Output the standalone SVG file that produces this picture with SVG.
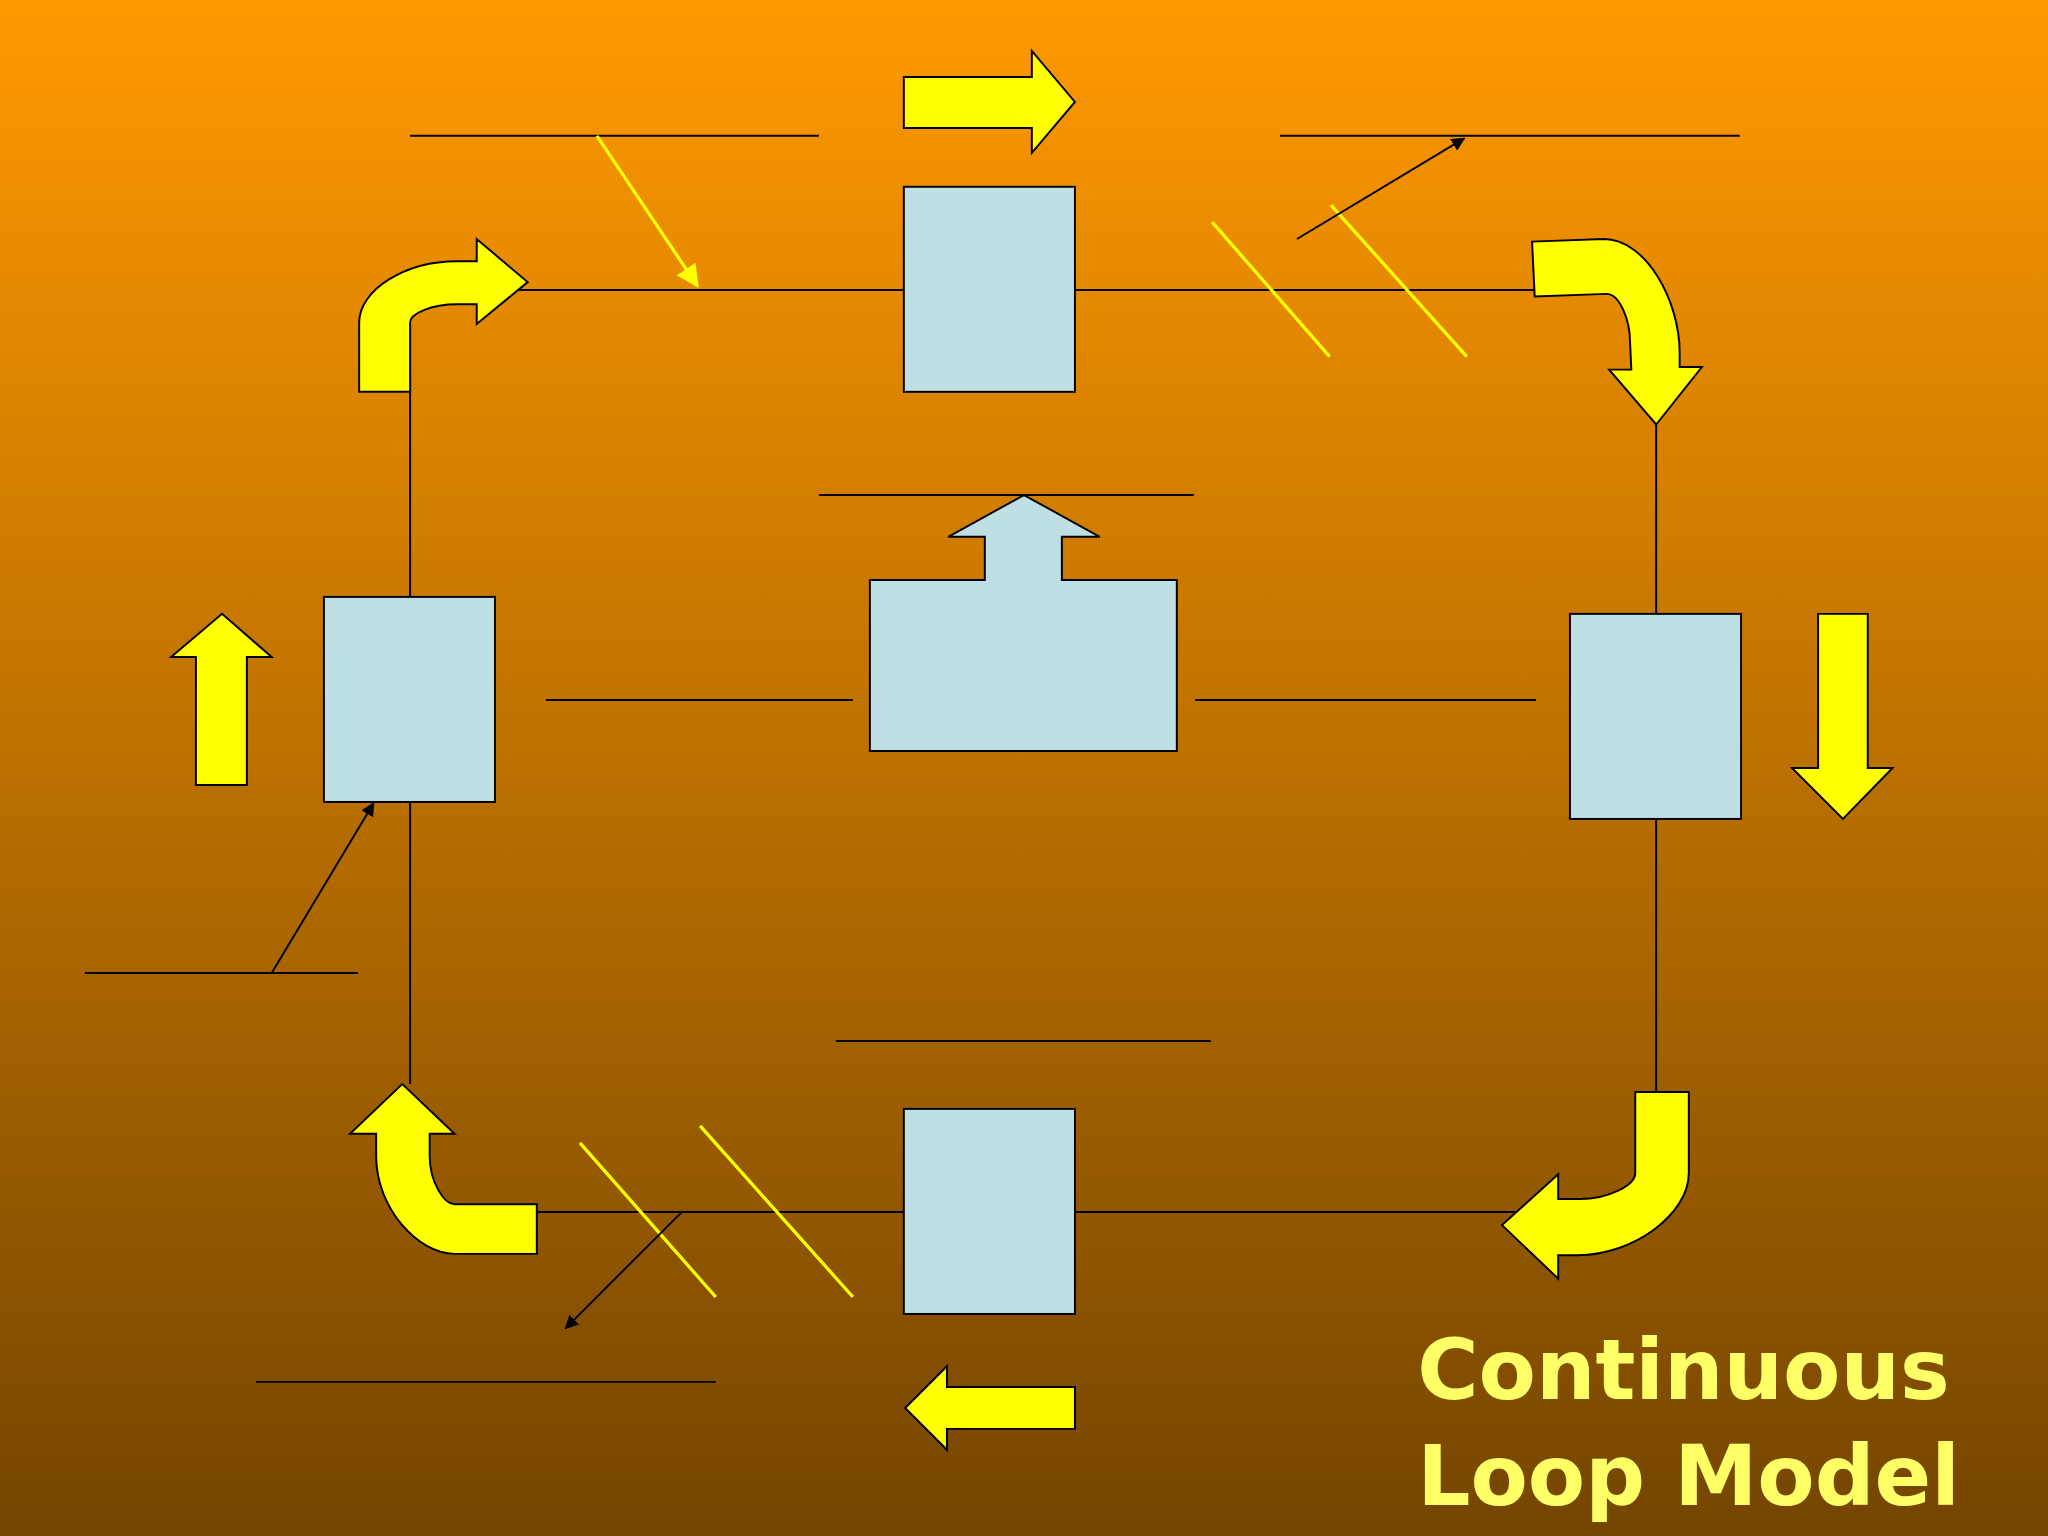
<svg xmlns="http://www.w3.org/2000/svg" width="2048" height="1536" viewBox="0 0 2048 1536">
<defs>
<linearGradient id="bg" x1="0" y1="0" x2="0" y2="1">
<stop offset="0" stop-color="#FF9900"/><stop offset="0.5" stop-color="#BB7000"/><stop offset="1" stop-color="#744500"/>
</linearGradient>
<marker id="ab" viewBox="0 0 10 10" refX="9" refY="5" markerWidth="7" markerHeight="7" orient="auto"><path d="M0,0 L10,5 L0,10 Z" fill="#000"/></marker>
<marker id="ay" viewBox="0 0 10 10" refX="9" refY="5" markerWidth="7" markerHeight="7" orient="auto"><path d="M0,0 L10,5 L0,10 Z" fill="#FFFF00"/></marker>
<style>
.box{fill:#BEDFE4;stroke:#000;stroke-width:1.5}
.ya{fill:#FFFF00;stroke:#000;stroke-width:1.5}
.ln{stroke:#000;stroke-width:1.5;fill:none}
.yl{stroke:#FFFF00;stroke-width:2.5;fill:none}
.t{font-family:"DejaVu Sans",Verdana,sans-serif;font-weight:bold;font-size:64px;fill:#FFFF66}
</style>
</defs>
<rect width="2048" height="1536" fill="url(#bg)"/>
<g transform="scale(1.30612)">
<g id="connectors">
<line class="ln" x1="314" y1="104" x2="627" y2="104"/>
<line class="ln" x1="980" y1="104" x2="1332" y2="104"/>
<line class="ln" x1="395" y1="222" x2="692" y2="222"/>
<line class="ln" x1="823" y1="222" x2="1175" y2="222"/>
<line class="yl" x1="457" y1="104" x2="534" y2="219" marker-end="url(#ay)"/>
<line class="yl" x1="928" y1="170" x2="1018" y2="273"/>
<line class="yl" x1="1019" y1="157" x2="1123" y2="273"/>
<line class="ln" x1="993" y1="183" x2="1121" y2="106" marker-end="url(#ab)"/>
<line class="ln" x1="1268" y1="325" x2="1268" y2="470"/>
<line class="ln" x1="1268" y1="627" x2="1268" y2="836"/>
<line class="ln" x1="314" y1="248" x2="314" y2="457"/>
<line class="ln" x1="314" y1="614" x2="314" y2="830"/>
<line class="ln" x1="627" y1="379" x2="914" y2="379"/>
<line class="ln" x1="418" y1="536" x2="653" y2="536"/>
<line class="ln" x1="915" y1="536" x2="1176" y2="536"/>
<line class="ln" x1="65" y1="745" x2="274" y2="745"/>
<line class="ln" x1="208" y1="745" x2="286" y2="615" marker-end="url(#ab)"/>
<line class="ln" x1="640" y1="797" x2="927" y2="797"/>
<line class="ln" x1="412" y1="928" x2="692" y2="928"/>
<line class="ln" x1="823" y1="928" x2="1160" y2="928"/>
<line class="yl" x1="444" y1="875" x2="548" y2="993"/>
<line class="yl" x1="536" y1="862" x2="653" y2="993"/>
<line class="ln" x1="522" y1="928" x2="433" y2="1017" marker-end="url(#ab)"/>
<line class="ln" x1="196" y1="1058" x2="548" y2="1058"/>
</g>
<g id="box-top"><rect class="box" x="692" y="143" width="131" height="157"/></g>
<g id="box-right"><rect class="box" x="1202" y="470" width="131" height="157"/></g>
<g id="box-left"><rect class="box" x="248" y="457" width="131" height="157"/></g>
<g id="box-bottom"><rect class="box" x="692" y="849" width="131" height="157"/></g>
<g id="center"><polygon class="box" points="666,444 754,444 754,411 726,411 784,379 842,411 813,411 813,444 901,444 901,575 666,575"/></g>
<g id="arrows">
<polygon class="ya" points="692,59 790,59 790,39 823,78 790,117 790,98 692,98"/>
<path class="ya" d="M275,300 L275,247 C275,222 310,200 350,200 L365,200 L365,183 L404,216 L365,248 L365,233 L350,233 C330,233 314,240 314,247 L314,300 Z"/>
<path class="ya" d="M1173,185 L1228,183 C1260,183 1286,230 1286,270 L1286,281 L1303,281 L1268,325 L1232,283 L1249,283 L1248,262 C1248,245 1240,225 1230,225 L1175,227 Z"/>
<polygon class="ya" points="1392,470 1430,470 1430,588 1449,588 1411,627 1372,588 1392,588"/>
<polygon class="ya" points="150,601 189,601 189,503 208,503 170,470 131,503 150,503"/>
<path class="ya" d="M1252,836 L1293,836 L1293,898 C1293,930 1250,961 1208,961 L1193,961 L1193,979 L1150,938 L1193,899 L1193,918 L1210,918 C1230,918 1252,908 1252,898 Z"/>
<path class="ya" d="M411,922 L411,960 L348,960 C320,960 288,925 288,885 L288,868 L268,868 L308,830 L348,868 L329,868 L329,885 C329,905 340,922 348,922 Z"/>
<polygon class="ya" points="823,1062 823,1094 725,1094 725,1110 693,1078 725,1046 725,1062"/>
</g>
<text class="t" x="1085" y="1071">Continuous</text>
<text class="t" x="1085" y="1152">Loop Model</text>
</g>
</svg>
